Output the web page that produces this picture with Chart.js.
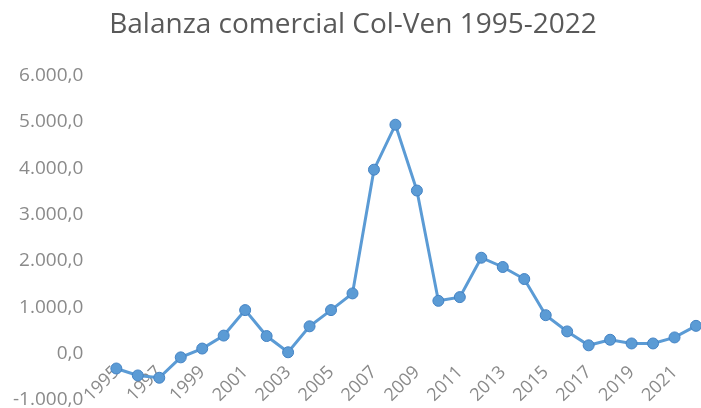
<!DOCTYPE html>
<html>
<head>
<meta charset="utf-8">
<script src="https://cdn.jsdelivr.net/npm/chart.js@4"></script>
<style>
  html, body { margin: 0; padding: 0; background: #fff; overflow: hidden; }
  #wrap { width: 708px; height: 408px; }
</style>
</head>
<body>
<div id="wrap"><canvas id="balanza_chart"></canvas></div>
<script>
// Years on the category axis
var years = [
    '1995', '1996', '1997', '1998', '1999', '2000', '2001', '2002', '2003', '2004',
    '2005', '2006', '2007', '2008', '2009', '2010', '2011', '2012', '2013', '2014',
    '2015', '2016', '2017', '2018', '2019', '2020', '2021', '2022'
]

// Trade balance Colombia - Venezuela (millones USD)
var balance = [
    -320, -470, -520, -80, 110, 390, 940, 380, 30, 590,
    940, 1300, 3970, 4940, 3520, 1140, 1220, 2070, 1870, 1610,
    830, 480, 180, 300, 220, 220, 350, 600
]

// Value axis
var yMin  = -1000
var yMax  = 6000
var yStep = 1000

var lineColor   = 'rgb(91,155,213)'
var markerEdge  = 'rgb(68,131,196)'
var labelColor  = '#8a8a8a'
var titleColor  = '#595959'

/**
 * Format a number the Spanish way: 6.000,0
 */
function formatEs (v)
{
    var neg = v < 0
    var s = Math.abs(v).toFixed(1).split('.')
    var int = s[0].replace(/\B(?=(\d{3})+(?!\d))/g, '.')
    return (neg ? '-' : '') + int + ',' + s[1]
}

var ctx = document.getElementById('balanza_chart')

var chart = new Chart(ctx, {
    type: 'line',
    data: {
        labels: years,
        datasets: [
            {
                label: 'Balanza comercial',
                data: balance,
                borderColor: lineColor,
                borderWidth: 3,
                backgroundColor: lineColor,
                pointBackgroundColor: lineColor,
                pointBorderColor: markerEdge,
                pointBorderWidth: 1,
                pointRadius: 5.5,
                tension: 0,
                clip: false
            }
        ]
    },
    options: {
        responsive: true,
        maintainAspectRatio: false,
        animation: false,
        layout: {
            padding: { top: 6, right: 12, bottom: 8, left: 10 }
        },
        plugins: {
            legend: { display: false },
            tooltip: { enabled: false },
            title: {
                display: true,
                text: 'Balanza comercial Col-Ven 1995-2022',
                color: titleColor,
                font: { family: 'Open Sans', size: 28, weight: 'normal' },
                padding: { top: 2, bottom: 34 }
            }
        },
        scales: {
            x: {
                // category axis crosses the value axis at 0, labels hang below it
                position: { y: 0 },
                offset: false,
                grid: { display: false },
                border: { display: false },
                afterFit: function (scale) {
                    scale.height = 0
                    scale.paddingLeft = 0
                    scale.paddingRight = 0
                },
                ticks: {
                    autoSkip: false,
                    minRotation: 45,
                    maxRotation: 45,
                    padding: 0,
                    color: labelColor,
                    font: { family: 'Open Sans', size: 18 },
                    callback: function (value, index) {
                        return index % 2 === 0 ? years[index] : ''
                    }
                }
            },
            y: {
                min: yMin,
                max: yMax,
                // invisible tick marks give the gap between labels and plot
                grid: {
                    drawOnChartArea: false,
                    drawTicks: true,
                    tickLength: 30,
                    tickColor: 'rgba(0,0,0,0)'
                },
                border: { display: false },
                afterFit: function (scale) {
                    scale.paddingBottom = 0
                },
                ticks: {
                    stepSize: yStep,
                    padding: 3,
                    color: labelColor,
                    font: { family: 'Open Sans', size: 19 },
                    callback: function (value) {
                        return formatEs(value)
                    }
                }
            }
        }
    }
})
</script>
</body>
</html>
